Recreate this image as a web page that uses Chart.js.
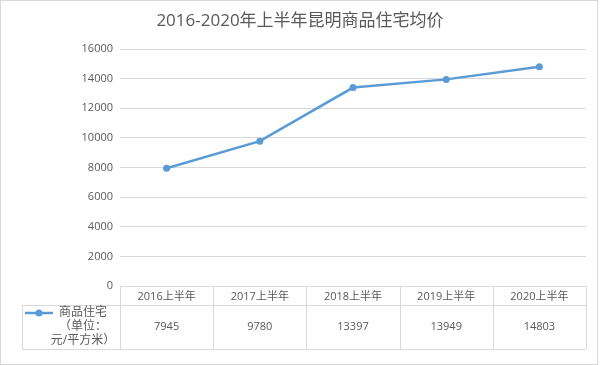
<!DOCTYPE html>
<html>
<head>
<meta charset="utf-8">
<script src="https://cdn.jsdelivr.net/npm/chart.js@4/dist/chart.umd.min.js"></script>
<style>
  body { margin: 0; background: #fff; }
  #wrap { position: absolute; left: 0; top: 0; width: 600px; height: 365px; }
</style>
</head>
<body>
<div id="wrap"><canvas id="priceChart" width="600" height="365"></canvas></div>
<script>
// data
const chartTitle = '2016-2020年上半年昆明商品住宅均价';
const categories = ['2016上半年', '2017上半年', '2018上半年', '2019上半年', '2020上半年'];
const prices = [7945, 9780, 13397, 13949, 14803];
const seriesName = ['商品住宅', '（单位：', '元/平方米）'];
const yTicks = [0, 2000, 4000, 6000, 8000, 10000, 12000, 14000, 16000];

const lineColor = '#5b9bd5';
const gridColor = '#d9d9d9';
const textColor = '#595959';
const fontFamily = '"Open Sans", "Noto Sans CJK SC", sans-serif';

// title, frame and the data table underneath (Excel style)
const tablePlugin = {
    id: 'dataTable',
    beforeDraw(chart) {
        const ctx = chart.ctx;
        ctx.save();
        ctx.fillStyle = '#fff';
        ctx.fillRect(0, 0, chart.width, chart.height);
        ctx.strokeStyle = gridColor;
        ctx.lineWidth = 1;
        ctx.strokeRect(0.5, 0.5, 597, 364);
        ctx.fillStyle = textColor;
        ctx.font = '17px ' + fontFamily;
        ctx.textAlign = 'center';
        ctx.textBaseline = 'middle';
        ctx.fillText(chartTitle, 300, 21);
        ctx.restore();
    },
    afterDraw(chart) {
        const ctx = chart.ctx;
        const area = chart.chartArea;
        const n = categories.length;
        const colW = (area.right - area.left) / n;
        const top = area.bottom;
        const mid = top + 19;
        const bottom = top + 63;
        const legendLeft = 22;

        ctx.save();
        ctx.strokeStyle = gridColor;
        ctx.lineWidth = 1;
        ctx.beginPath();
        // horizontal rules
        ctx.moveTo(area.left, top + 0.5); ctx.lineTo(area.right, top + 0.5);
        ctx.moveTo(legendLeft, mid + 0.5); ctx.lineTo(area.right, mid + 0.5);
        ctx.moveTo(legendLeft, bottom + 0.5); ctx.lineTo(area.right, bottom + 0.5);
        // vertical rules
        for (let i = 0; i <= n; i++) {
            const x = Math.round(area.left + i * colW) + 0.5;
            ctx.moveTo(x, top); ctx.lineTo(x, bottom);
        }
        ctx.moveTo(legendLeft + 0.5, mid); ctx.lineTo(legendLeft + 0.5, bottom);
        ctx.stroke();

        // header and value cells
        ctx.fillStyle = textColor;
        ctx.textAlign = 'center';
        ctx.textBaseline = 'middle';
        ctx.font = '11px ' + fontFamily;
        const xs = chart.scales.x;
        categories.forEach((c, i) => {
            const cx = xs.getPixelForValue(i);
            ctx.fillText(c, cx, (top + mid) / 2 + 1);
            ctx.fillText(String(prices[i]), cx, (mid + bottom) / 2);
        });

        // legend key
        const ky = mid + 8;
        ctx.strokeStyle = lineColor;
        ctx.lineWidth = 2.5;
        ctx.beginPath();
        ctx.moveTo(25, ky); ctx.lineTo(53, ky);
        ctx.stroke();
        ctx.fillStyle = lineColor;
        ctx.beginPath();
        ctx.arc(39, ky, 3.5, 0, Math.PI * 2);
        ctx.fill();

        ctx.fillStyle = textColor;
        ctx.font = '12px ' + fontFamily;
        seriesName.forEach((t, i) => {
            ctx.fillText(t, 83, mid + 8 + i * 14);
        });
        ctx.restore();
    }
};

new Chart(document.getElementById('priceChart'), {
    type: 'line',
    data: {
        labels: categories,
        datasets: [{
            label: seriesName.join(''),
            data: prices,
            borderColor: lineColor,
            backgroundColor: lineColor,
            borderWidth: 2.5,
            pointRadius: 3.5,
            pointBackgroundColor: lineColor,
            pointBorderWidth: 0,
            tension: 0
        }]
    },
    options: {
        responsive: false,
        animation: false,
        layout: { padding: { top: 49, right: 14, bottom: 79, left: 0 } },
        plugins: {
            legend: { display: false },
            title: { display: false },
            tooltip: { enabled: false }
        },
        scales: {
            x: {
                display: false,
                offset: true
            },
            y: {
                min: 0,
                max: 16000,
                afterBuildTicks: s => { s.ticks = yTicks.map(v => ({ value: v })); },
                afterFit: s => { s.width = 120; },
                border: { display: false },
                grid: { color: gridColor, drawTicks: false },
                ticks: {
                    padding: 7,
                    color: textColor,
                    font: { size: 11, family: fontFamily },
                    callback: v => String(v)
                }
            }
        }
    },
    plugins: [tablePlugin]
});
</script>
</body>
</html>
